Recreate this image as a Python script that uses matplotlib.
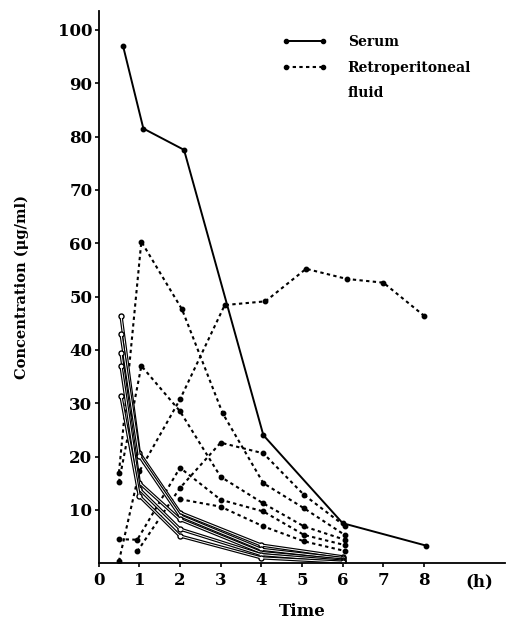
import matplotlib
matplotlib.use("Agg")
import matplotlib.pyplot as plt
from matplotlib.lines import Line2D

plt.rcParams["font.family"] = "serif"
plt.rcParams["font.serif"] = ["DejaVu Serif"]
plt.rcParams["font.weight"] = "bold"

# serum curves (solid)
serum_high_t = [0.6, 1.1, 2.1, 4.05, 6.0, 8.05]
serum_high = [97, 81.5, 77.5, 24, 7.5, 3.3]
serum_t = [0.55, 1.0, 2.0, 4.0, 6.0]
serum_curves = [
    [46.4, 20.7, 9.5, 3.4, 1.2],
    [43.0, 20.1, 8.9, 2.6, 0.9],
    [39.4, 15.1, 8.2, 2.0, 0.6],
    [37.0, 13.9, 6.4, 1.6, 0.4],
    [31.3, 12.6, 5.1, 1.0, 0.2],
]

# retroperitoneal fluid curves (dotted)
fluid_t = [
    [0.5, 1.05, 2.05, 3.05, 4.05, 5.05, 6.05],
    [0.5, 1.05, 2.0, 3.0, 4.05, 5.05, 6.05],
    [0.5, 1.0, 2.0, 3.1, 4.1, 5.1, 6.1, 7.0, 8.0],
    [0.5, 0.95, 2.0, 3.0, 4.05, 5.05, 6.05],
    [0.95, 2.0, 3.0, 4.05, 5.05, 6.05],
    [2.0, 3.0, 4.05, 5.05, 6.05],
]
fluid_curves = [
    [17.0, 60.3, 47.6, 28.1, 15.0, 10.3, 5.3],
    [15.2, 37.0, 28.5, 16.2, 11.2, 6.9, 4.4],
    [0.4, 17.2, 30.7, 48.4, 49.1, 55.2, 53.3, 52.6, 46.4],
    [4.5, 4.4, 17.9, 11.9, 9.7, 5.3, 3.4],
    [2.2, 14.1, 22.6, 20.6, 12.8, 7.0],
    [12.0, 10.6, 6.9, 4.1, 2.3],
]

fig = plt.figure(figsize=(5.11, 6.23), dpi=100)
ax = fig.add_axes([0.193, 0.096, 0.796, 0.886])

dot = (0, (1.6, 1.6))
for t, c in zip(fluid_t, fluid_curves):
    ax.plot(t, c, color="black", lw=1.5, ls=dot, marker="o", ms=3.2,
            mfc="black", mec="black")

ax.plot(serum_high_t, serum_high, color="black", lw=1.4, marker="o", ms=3.2)
for c in serum_curves:
    ax.plot(serum_t, c, color="black", lw=2.4, marker="o", ms=3.6,
            mfc="white", mec="black", mew=1.0, solid_joinstyle="round")
    ax.plot(serum_t, c, color="white", lw=0.7)

ax.set_xlim(0, 10)
ax.set_ylim(0, 103.5)
for s in ["top", "right"]:
    ax.spines[s].set_visible(False)
ax.spines["left"].set_linewidth(1.3)
ax.spines["bottom"].set_linewidth(1.3)

ax.set_yticks(range(10, 101, 10))
ax.set_xticks(range(0, 9))
ax.tick_params(labelsize=12, length=3, width=1.2, direction="out")
ax.tick_params(axis="y", pad=1.5)
for lab in ax.get_xticklabels() + ax.get_yticklabels():
    lab.set_fontweight("bold")
ax.text(9.35, -2.0, "(h)", fontsize=12, fontweight="bold",
        ha="center", va="top")

ax.set_xlabel("Time", fontsize=12, fontweight="bold", labelpad=10)
ax.set_ylabel("Concentration (\u03bcg/ml)", fontsize=10.5, fontweight="bold",
              labelpad=21)

handles = [
    Line2D([], [], color="black", lw=1.4, marker="o", ms=3),
    Line2D([], [], color="black", lw=1.5, ls=dot, marker="o", ms=3),
]
leg = ax.legend(handles, ["Serum", "Retroperitoneal"], loc="upper left",
                bbox_to_anchor=(0.45, 0.957), frameon=False, numpoints=2,
                handlelength=3.3, handletextpad=1.45, labelspacing=0.85,
                borderaxespad=0, borderpad=0,
                prop={"size": 10, "weight": "bold"})
ax.text(0.613, 0.852, "fluid", transform=ax.transAxes, fontsize=10,
        fontweight="bold", ha="left", va="center")

fig.savefig("out.png", dpi=100)
